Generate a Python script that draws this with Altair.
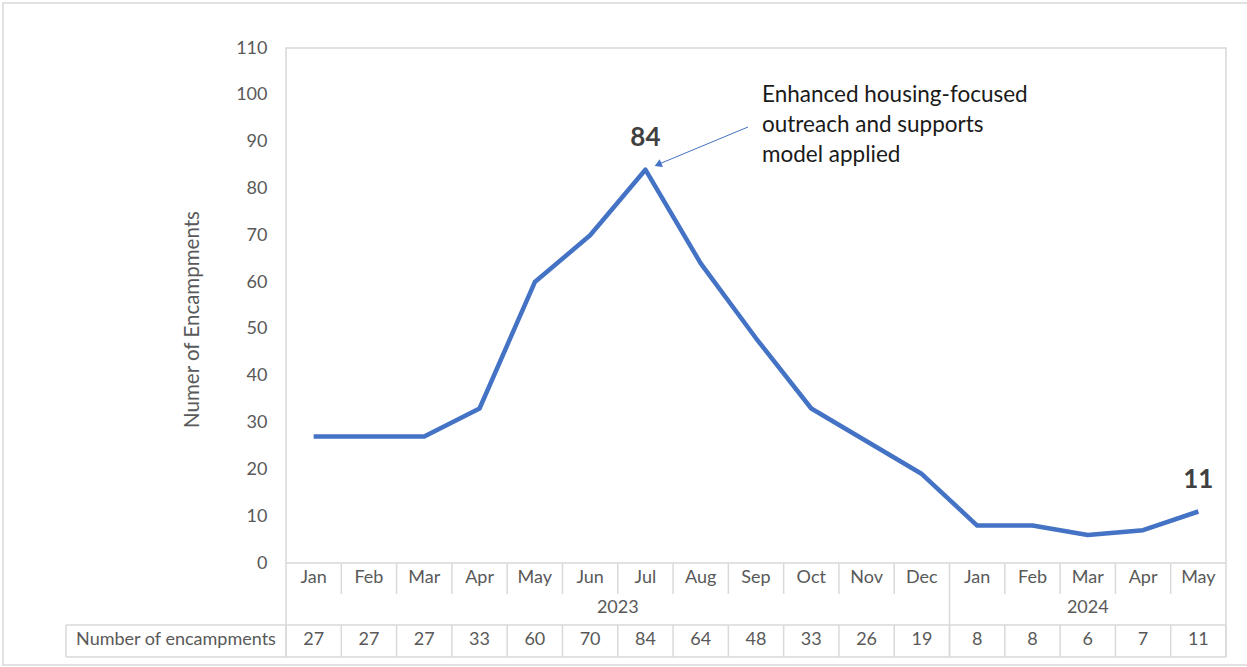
import altair as alt
import pandas as pd

# ---- data ----
months = ["Jan", "Feb", "Mar", "Apr", "May", "Jun", "Jul", "Aug", "Sep", "Oct", "Nov", "Dec",
          "Jan", "Feb", "Mar", "Apr", "May"]
years = ["2023"] * 12 + ["2024"] * 5
values = [27, 27, 27, 33, 60, 70, 84, 64, 48, 33, 26, 19, 8, 8, 6, 7, 11]
y_ticks = [0, 10, 20, 30, 40, 50, 60, 70, 80, 90, 100, 110]
labelled_idx = [6, 16]
annotation_lines = ["Enhanced housing-focused", "outreach and supports", "model applied"]
row_label = "Number of encampments"
y_title = "Numer of Encampments"

# ---- layout / style ----
W, H = 940, 515
FONT = "Lato"
GRID = "#d9d9d9"
LABEL = "#595959"
BLUE = "#4472C4"
FS = 18

n = len(months)
df = pd.DataFrame({"idx": list(range(n)), "month": months, "year": years, "value": values})

xscale = alt.Scale(domain=[-0.5, n - 0.5], nice=False, zero=False)
yscale = alt.Scale(domain=[0, 110], nice=False, zero=True)
yaxis = alt.Axis(values=y_ticks, grid=False, domain=False, ticks=False,
                 labelFont=FONT, labelFontSize=FS, labelColor=LABEL, labelPadding=19,
                 title=y_title, titleFont=FONT, titleFontSize=20.5,
                 titleFontWeight="normal", titleColor=LABEL,
                 titleX=-94, titleY=271, titleAngle=270,
                 titleAlign="center", titleBaseline="middle")


def X(field):
    return alt.X(field, scale=xscale, axis=None)


def Y(field):
    return alt.Y(field, scale=yscale, axis=yaxis)


# separators between month columns
sep_short, sep_full = [], []
for i in range(n + 1):
    b = i - 0.5
    if i == 0 or i == n or years[i - 1] != years[i]:
        sep_full.append(b)
    else:
        sep_short.append(b)
sep_short_df = pd.DataFrame({"idx": sep_short})
sep_full_df = pd.DataFrame({"idx": sep_full})
all_sep_df = pd.DataFrame({"idx": sep_short + sep_full})

year_df = (pd.DataFrame({"idx": list(range(n)), "year": years})
           .groupby("year", as_index=False)["idx"].mean())

one = pd.DataFrame({"k": [0]})

MONTH_Y = 530
YEAR_Y = 560
VAL_Y = 592
ROW_TOP = 577
ROW_BOT = 609
MONTH_BOT = 546

border = alt.Chart(one).mark_rect(fill="transparent", stroke=GRID, strokeWidth=1.5).encode(
    x=alt.value(-283), x2=alt.value(970), y=alt.value(-45), y2=alt.value(617))

line = alt.Chart(df).mark_line(color=BLUE, strokeWidth=4.5, strokeJoin="round").encode(
    x=X("idx:Q"), y=Y("value:Q"))

data_labels = alt.Chart(df).transform_filter(
    alt.FieldOneOfPredicate(field="idx", oneOf=labelled_idx)
).mark_text(font=FONT, fontSize=26, fontWeight="bold", color="#404040", dy=-32).encode(
    x=X("idx:Q"), y=Y("value:Q"), text="value:Q")

rules_short = alt.Chart(sep_short_df).mark_rule(color=GRID, strokeWidth=1.5).encode(
    x=X("idx:Q"), y=alt.value(H), y2=alt.value(MONTH_BOT))
rules_row = alt.Chart(all_sep_df).mark_rule(color=GRID, strokeWidth=1.5).encode(
    x=X("idx:Q"), y=alt.value(ROW_TOP), y2=alt.value(ROW_BOT))
rules_full = alt.Chart(sep_full_df).mark_rule(color=GRID, strokeWidth=1.5).encode(
    x=X("idx:Q"), y=alt.value(H), y2=alt.value(ROW_BOT))
h_top = alt.Chart(one).mark_rule(color=GRID, strokeWidth=1.5).encode(
    x=alt.value(-220), x2=alt.value(W), y=alt.value(ROW_TOP))
h_bot = alt.Chart(one).mark_rule(color=GRID, strokeWidth=1.5).encode(
    x=alt.value(-220), x2=alt.value(W), y=alt.value(ROW_BOT))
v_left = alt.Chart(one).mark_rule(color=GRID, strokeWidth=1.5).encode(
    x=alt.value(-220), y=alt.value(ROW_TOP), y2=alt.value(ROW_BOT))

month_text = alt.Chart(df).mark_text(font=FONT, fontSize=FS, color=LABEL, baseline="middle").encode(
    x=X("idx:Q"), y=alt.value(MONTH_Y), text="month:N")
year_text = alt.Chart(year_df).mark_text(font=FONT, fontSize=FS, color=LABEL, baseline="middle").encode(
    x=X("idx:Q"), y=alt.value(YEAR_Y), text="year:N")
val_text = alt.Chart(df).mark_text(font=FONT, fontSize=FS, color=LABEL, baseline="middle").encode(
    x=X("idx:Q"), y=alt.value(VAL_Y), text="value:Q")
row_text = alt.Chart(one).mark_text(font=FONT, fontSize=FS, color=LABEL, baseline="middle",
                                    text=row_label).encode(
    x=alt.value(-110), y=alt.value(VAL_Y))

ann_layers = []
for i, txt in enumerate(annotation_lines):
    ann_layers.append(
        alt.Chart(one).mark_text(font=FONT, fontSize=22.5, color="#1a1a1a", align="left",
                                 baseline="middle", text=txt).encode(
            x=alt.value(476), y=alt.value(47 + i * 30)))

arrow_line = alt.Chart(one).mark_rule(color=BLUE, strokeWidth=1).encode(
    x=alt.value(462), y=alt.value(79), x2=alt.value(373), y2=alt.value(116))
arrow_head = alt.Chart(one).mark_point(shape="triangle-up", filled=True, color=BLUE,
                                       size=70, angle=247, opacity=1).encode(
    x=alt.value(372), y=alt.value(116.5))

chart = alt.layer(
    border, rules_short, rules_row, rules_full, h_top, h_bot, v_left,
    month_text, year_text, val_text, row_text,
    line, data_labels, *ann_layers, arrow_line, arrow_head
).properties(
    width=W, height=H,
    autosize=alt.AutoSizeParams(type="none"),
    padding={"left": 286, "top": 48, "right": 21, "bottom": 104},
    background="white",
).configure_view(stroke=GRID, strokeWidth=1.5)

chart.save("out.html", embed_options={"renderer": "svg", "actions": False})
